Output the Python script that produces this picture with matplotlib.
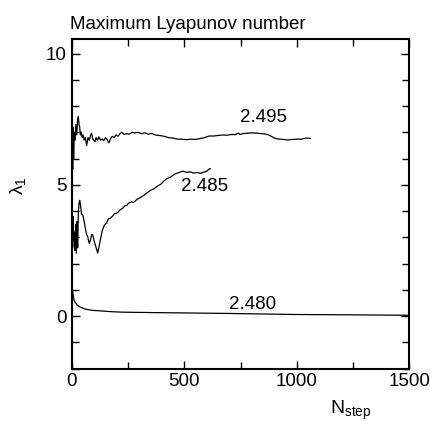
import matplotlib
matplotlib.use("Agg")
import matplotlib.pyplot as plt
from matplotlib.ticker import MultipleLocator

plt.rcParams["font.family"] = ["Liberation Sans", "DejaVu Sans"]
plt.rcParams["mathtext.fontset"] = "custom"
plt.rcParams["mathtext.rm"] = "Liberation Sans"
plt.rcParams["mathtext.it"] = "Liberation Sans"

# ── Data ─────────────────────────────────────────────────────────────────────

# curve labelled 2.495
n_a = [0, 2, 4, 6, 8, 11, 14, 18, 22, 26, 29, 32, 35, 38, 42, 46, 50, 55, 60, 66,
       72, 78, 84, 88, 93, 98, 103, 108, 115, 120, 128, 135, 142, 150, 158, 165,
       172, 180, 188, 196, 205, 214, 222, 232, 244, 255, 268, 280, 295, 310, 325,
       340, 355, 370, 390, 410, 430, 450, 470, 490, 510, 530, 550, 570, 590, 610,
       630, 650, 670, 690, 710, 725, 740, 748, 760, 780, 800, 820, 840, 860, 880,
       900, 920, 940, 960, 980, 1000, 1020, 1040, 1060]
lam_a = [3.0, 6.5, 5.6, 7.2, 6.0, 7.0, 6.7, 7.3, 6.9, 7.5, 7.6, 7.3, 7.2, 6.9, 7.0,
         6.8, 6.9, 6.7, 6.8, 6.5, 6.8, 6.7, 6.9, 6.96, 6.75, 6.7, 6.64, 6.8, 6.7,
         6.83, 6.7, 6.75, 6.68, 6.8, 6.7, 6.6, 6.75, 6.85, 6.8, 6.9, 6.85, 6.95,
         7.0, 6.92, 6.95, 6.93, 7.0, 6.98, 7.0, 6.95, 6.98, 6.93, 6.96, 6.9, 6.88,
         6.85, 6.8, 6.78, 6.74, 6.74, 6.72, 6.74, 6.73, 6.76, 6.8, 6.86, 6.86,
         6.88, 6.9, 6.89, 6.92, 6.91, 6.97, 6.92, 6.95, 6.97, 6.98, 6.97, 6.95,
         6.94, 6.88, 6.78, 6.74, 6.73, 6.71, 6.73, 6.74, 6.74, 6.78, 6.77]

# curve labelled 2.485
n_b = [0, 2, 4, 6, 8, 11, 14, 17, 20, 23, 26, 29, 32, 35, 39, 43, 49, 55, 60, 66,
       71, 75, 78, 83, 88, 93, 98, 105, 110, 115, 120, 128, 135, 145, 155, 162,
       170, 180, 190, 200, 207, 215, 225, 235, 245, 252, 265, 275, 290, 305, 320,
       335, 350, 365, 380, 395, 410, 423, 440, 455, 470, 485, 497, 510, 525, 540,
       555, 572, 585, 600, 610, 616]
lam_b = [2.0, 3.5, 2.6, 3.8, 2.9, 3.2, 2.5, 3.5, 2.4, 3.6, 2.6, 3.9, 4.3, 4.41, 4.2,
         3.9, 3.84, 3.6, 3.35, 3.1, 3.02, 2.85, 2.77, 2.9, 3.1, 3.1, 2.9, 2.7,
         2.55, 2.4, 2.6, 2.95, 3.25, 3.47, 3.55, 3.7, 3.72, 3.8, 3.9, 3.92, 3.97,
         4.05, 4.1, 4.2, 4.22, 4.3, 4.35, 4.33, 4.45, 4.52, 4.6, 4.7, 4.79, 4.85,
         4.95, 5.02, 5.15, 5.24, 5.3, 5.4, 5.45, 5.5, 5.52, 5.47, 5.5, 5.45, 5.47,
         5.44, 5.48, 5.52, 5.6, 5.62]

# curve labelled 2.480
n_c = [0, 2, 4, 7, 10, 15, 24, 35, 59, 90, 125, 170, 222, 300, 393, 500, 600, 700,
       850, 1000, 1200, 1350, 1500]
lam_c = [1.5, 1.1, 0.93, 0.75, 0.61, 0.52, 0.42, 0.35, 0.27, 0.22, 0.2, 0.17, 0.15,
         0.14, 0.13, 0.12, 0.11, 0.1, 0.08, 0.06, 0.05, 0.04, 0.03]

labels = ["2.495", "2.485", "2.480"]
label_pos = [(853, 7.57), (592, 4.92), (805, 0.44)]

# ── Plot ─────────────────────────────────────────────────────────────────────

fig = plt.figure(figsize=(4.3, 4.21), dpi=100)
ax = fig.add_axes([0.167, 0.1245, 0.785, 0.7825])

for n, lam in [(n_a, lam_a), (n_b, lam_b), (n_c, lam_c)]:
    ax.plot(n, lam, color="black", linewidth=0.9)

for text, (x, y) in zip(labels, label_pos):
    ax.text(x, y, text, ha="center", va="center", fontsize=13.5)

ax.set_xlim(0, 1500)
ax.set_ylim(-2, 10.55)
ax.xaxis.set_major_locator(MultipleLocator(500))
ax.xaxis.set_minor_locator(MultipleLocator(250))
ax.yaxis.set_major_locator(MultipleLocator(5))
ax.yaxis.set_minor_locator(MultipleLocator(1))
ax.tick_params(which="both", direction="in", top=True, right=True,
               labelsize=13.5, width=1.0)
ax.tick_params(which="major", length=6)
ax.tick_params(which="minor", length=5)
for s in ax.spines.values():
    s.set_linewidth(1.5)

ax.set_title("Maximum Lyapunov number", loc="left", fontsize=13.5, pad=7, x=-0.005)
fig.text(0.043, 0.56, r"$\lambda_1$", rotation=90, ha="center", va="center",
         fontsize=14)
fig.text(0.815, 0.025, r"$\mathregular{N_{step}}$", ha="center", va="center",
         fontsize=14)

fig.savefig("out.png", dpi=100)
